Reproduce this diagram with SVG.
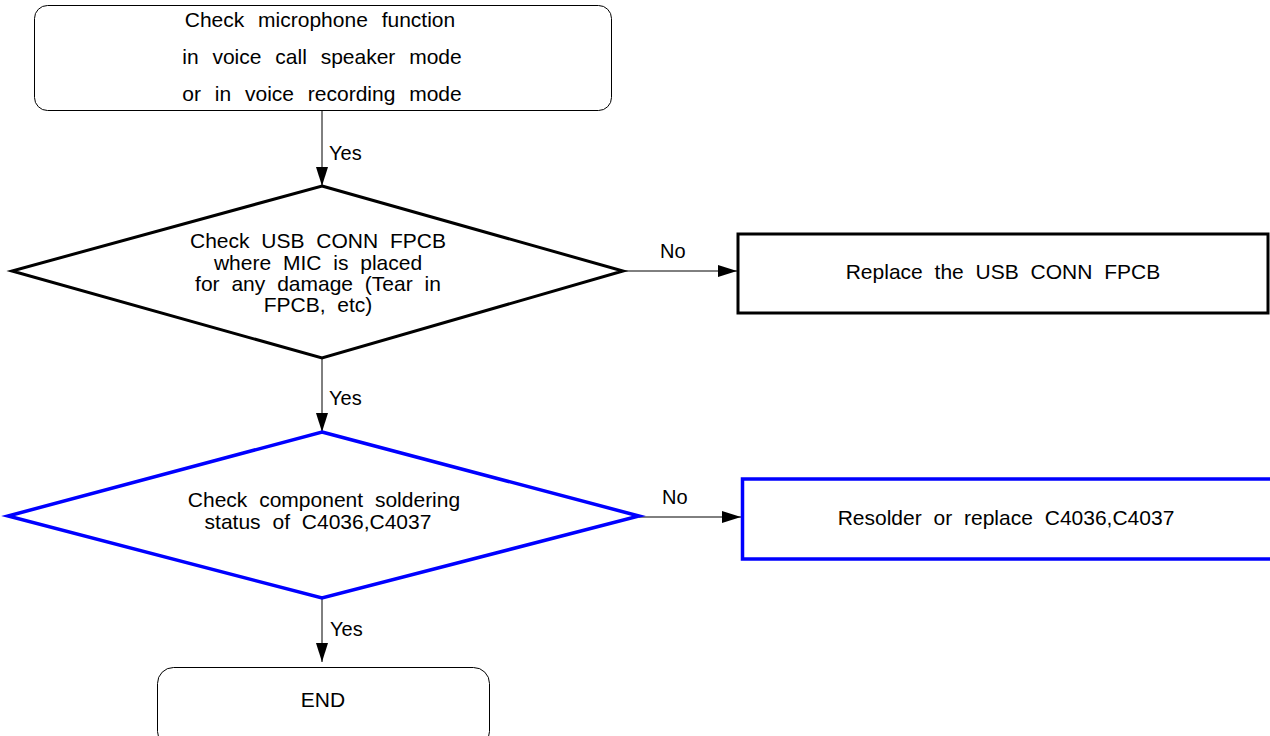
<svg xmlns="http://www.w3.org/2000/svg" width="1270" height="736" viewBox="0 0 1270 736">
<defs>
<marker id="arr" markerUnits="userSpaceOnUse" markerWidth="20" markerHeight="14" refX="19" refY="6" orient="auto">
<path d="M0,0 L19,6 L0,12 Z" fill="#000"/>
</marker>
<style>
text{font-family:"Liberation Sans",Arial,sans-serif;font-size:21px;fill:#000;text-anchor:middle;word-spacing:6px}
.lbl{font-size:20px;text-anchor:start;word-spacing:0}
.thin{fill:#fff;stroke:#000;stroke-width:1}
.blk{fill:#fff;stroke:#000;stroke-width:3}
.blu{fill:#fff;stroke:#0000ff;stroke-width:3.5}
.con{stroke:#000;stroke-width:1;fill:none}
</style>
</defs>
<rect width="1270" height="736" fill="#fff"/>
<g id="connectors">
<line class="con" x1="322" y1="111" x2="322" y2="186" marker-end="url(#arr)"/>
<line class="con" x1="623" y1="271" x2="737" y2="271" marker-end="url(#arr)"/>
<line class="con" x1="322" y1="358" x2="322" y2="432" marker-end="url(#arr)"/>
<line class="con" x1="639" y1="517" x2="741" y2="517" stroke="#666" marker-end="url(#arr)"/>
<line class="con" x1="322" y1="598" x2="322" y2="662" marker-end="url(#arr)"/>
<text class="lbl" x="329" y="160">Yes</text>
<text class="lbl" x="660" y="258">No</text>
<text class="lbl" x="329" y="405">Yes</text>
<text class="lbl" x="662" y="504">No</text>
<text class="lbl" x="330" y="636">Yes</text>
</g>
<g id="start">
<rect class="thin" x="34.5" y="5.5" width="577" height="105" rx="13"/>
<text x="320" y="27" style="word-spacing:8px">Check microphone function</text>
<text x="322" y="64" style="word-spacing:8px">in voice call speaker mode</text>
<text x="322" y="101" style="word-spacing:8px">or in voice recording mode</text>
</g>
<g id="check_fpcb">
<polygon class="blk" points="322,186 623,271 322,358 12,271"/>
<text x="318" y="248">Check USB CONN FPCB</text>
<text x="318" y="270">where MIC is placed</text>
<text x="318" y="291">for any damage (Tear in</text>
<text x="318" y="312">FPCB, etc)</text>
</g>
<g id="replace_fpcb">
<rect class="blk" x="738" y="234" width="530" height="79"/>
<text x="1003" y="279">Replace the USB CONN FPCB</text>
</g>
<g id="check_solder">
<polygon class="blu" points="322,432 639,516 322,598 8,516"/>
<text x="324" y="507">Check component soldering</text>
<text x="318" y="529">status of C4036,C4037</text>
</g>
<g id="resolder">
<rect class="blu" x="742.5" y="479" width="540" height="80"/>
<text x="1006" y="525">Resolder or replace C4036,C4037</text>
</g>
<g id="end">
<rect class="thin" x="157.5" y="667.5" width="332" height="80" rx="16"/>
<text x="323" y="707">END</text>
</g>
</svg>
